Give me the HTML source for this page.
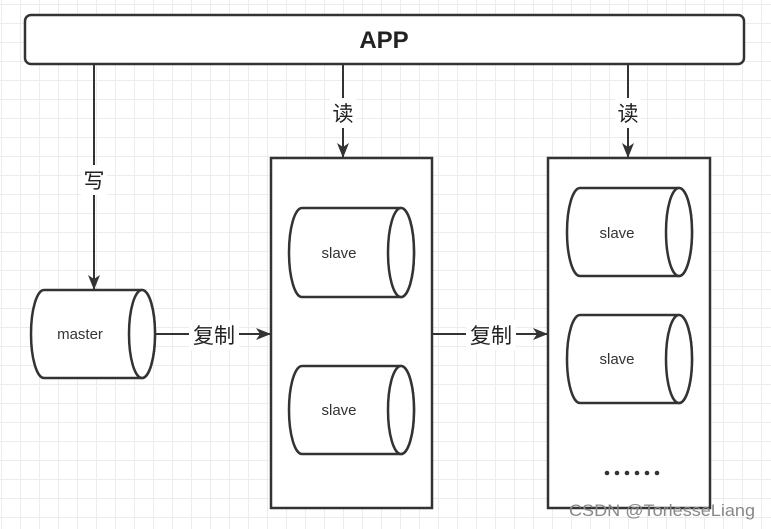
<!DOCTYPE html>
<html><head><meta charset="utf-8"><style>
html,body{margin:0;padding:0;}
body{width:771px;height:529px;overflow:hidden;background:#fff;
background-image:linear-gradient(#ececec 1px,transparent 1px),linear-gradient(90deg,#ececec 1px,transparent 1px);
background-size:19px 19px;background-position:0 4px,1px 0;}
svg{position:absolute;left:0;top:0;}
text{font-family:"Liberation Sans","Noto Sans CJK SC",sans-serif;}
</style></head><body>
<svg width="771" height="529" viewBox="0 0 771 529">
<defs><marker id="a" markerWidth="16" markerHeight="14" refX="15" refY="6" orient="auto" markerUnits="userSpaceOnUse"><path d="M0,0 L15,6 L0,12 L4,6 Z" fill="#333"/></marker></defs>
<g stroke="#333" stroke-width="2.5" fill="#fff">
<rect x="25" y="15" width="719" height="49" rx="6"/>
<rect x="271" y="158" width="161" height="350"/>
<rect x="548" y="158" width="162" height="350"/>
</g>
<text x="384" y="48" text-anchor="middle" font-size="24" font-weight="bold" fill="#222">APP</text>
<g stroke="#333" stroke-width="2" fill="none">
<line x1="94" y1="64" x2="94" y2="290" marker-end="url(#a)"/>
<line x1="343" y1="64" x2="343" y2="158" marker-end="url(#a)"/>
<line x1="628" y1="64" x2="628" y2="158" marker-end="url(#a)"/>
<line x1="155" y1="334" x2="271" y2="334" marker-end="url(#a)"/>
<line x1="432" y1="334" x2="548" y2="334" marker-end="url(#a)"/>
</g>
<g fill="#fff"><rect x="81" y="165" width="26" height="30"/><rect x="330" y="98" width="26" height="30"/><rect x="615" y="98" width="26" height="30"/><rect x="189" y="320" width="50" height="30"/><rect x="466" y="320" width="50" height="30"/></g>
<g font-size="21" fill="#222" text-anchor="middle">
<text x="94" y="188">写</text><text x="343" y="121">读</text><text x="628" y="121">读</text>
<text x="214" y="343">复制</text><text x="491" y="343">复制</text>
</g>
<g stroke="#333" stroke-width="2.5" fill="#fff">
<path d="M44,290 L142,290 A13,44 0 0 1 142,378 L44,378 A13,44 0 0 1 44,290Z"/><ellipse cx="142" cy="334" rx="13" ry="44"/>
<path d="M302,208 L401,208 A13,44.5 0 0 1 401,297 L302,297 A13,44.5 0 0 1 302,208Z"/><ellipse cx="401" cy="252.5" rx="13" ry="44.5"/>
<path d="M302,366 L401,366 A13,44 0 0 1 401,454 L302,454 A13,44 0 0 1 302,366Z"/><ellipse cx="401" cy="410" rx="13" ry="44"/>
<path d="M580,188 L679,188 A13,44 0 0 1 679,276 L580,276 A13,44 0 0 1 580,188Z"/><ellipse cx="679" cy="232" rx="13" ry="44"/>
<path d="M580,315 L679,315 A13,44 0 0 1 679,403 L580,403 A13,44 0 0 1 580,315Z"/><ellipse cx="679" cy="359" rx="13" ry="44"/>
</g>
<g font-size="15" fill="#333" text-anchor="middle">
<text x="80" y="339">master</text>
<text x="339" y="258">slave</text><text x="339" y="415">slave</text>
<text x="617" y="238">slave</text><text x="617" y="364">slave</text>
</g>
<g fill="#333"><circle cx="607" cy="473" r="2.3"/><circle cx="617" cy="473" r="2.3"/><circle cx="627" cy="473" r="2.3"/><circle cx="637" cy="473" r="2.3"/><circle cx="647" cy="473" r="2.3"/><circle cx="657" cy="473" r="2.3"/></g>
<text x="569" y="516" font-size="17" fill="#888" textLength="186" lengthAdjust="spacingAndGlyphs">CSDN @TorlesseLiang</text>
</svg>
</body></html>
